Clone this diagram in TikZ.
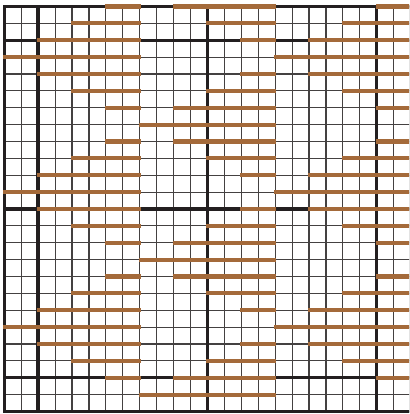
\documentclass[tikz,border=0pt]{standalone}
\definecolor{ink}{RGB}{35,31,32}
\definecolor{weft}{RGB}{164,106,58}
\begin{document}
\begin{tikzpicture}[x=16.93pt,y=-16.875pt,
  thinline/.style={draw=ink!85, line width=1.1pt},
  thickline/.style={draw=ink, line width=3.4pt, line cap=rect},
  bar/.style={draw=weft, line width=4.2pt, shorten <=-1pt, shorten >=-1pt}]
\clip (-4.3pt,6.5pt) rectangle (404.7pt,-407.5pt);
% thin grid
\foreach \i in {0,...,24} \draw[thinline] (\i,0) -- (\i,24);
\foreach \j in {0,...,24} \draw[thinline] (0,\j) -- (24,\j);
% thick lines
\foreach \i in {0,2,12,22,24} \draw[thickline] (\i,0) -- (\i,24);
\foreach \j in {0,2,12,22,24} \draw[thickline] (0,\j) -- (24,\j);
% weft bars
\foreach \r in {0,6,8,14,16,22}
  \foreach \a/\b in {6/8,10/16,22/24} \draw[bar] (\a,\r) -- (\b,\r);
\foreach \r in {1,5,9,13,17,21}
  \foreach \a/\b in {4/8,12/16,20/24} \draw[bar] (\a,\r) -- (\b,\r);
\foreach \r in {2,4,10,12,18,20}
  \foreach \a/\b in {2/8,14/16,18/24} \draw[bar] (\a,\r) -- (\b,\r);
\foreach \r in {3,11,19}
  \foreach \a/\b in {0/8,16/24} \draw[bar] (\a,\r) -- (\b,\r);
\foreach \r in {7,15,23}
  \foreach \a/\b in {8/16} \draw[bar] (\a,\r) -- (\b,\r);
\end{tikzpicture}
\end{document}
